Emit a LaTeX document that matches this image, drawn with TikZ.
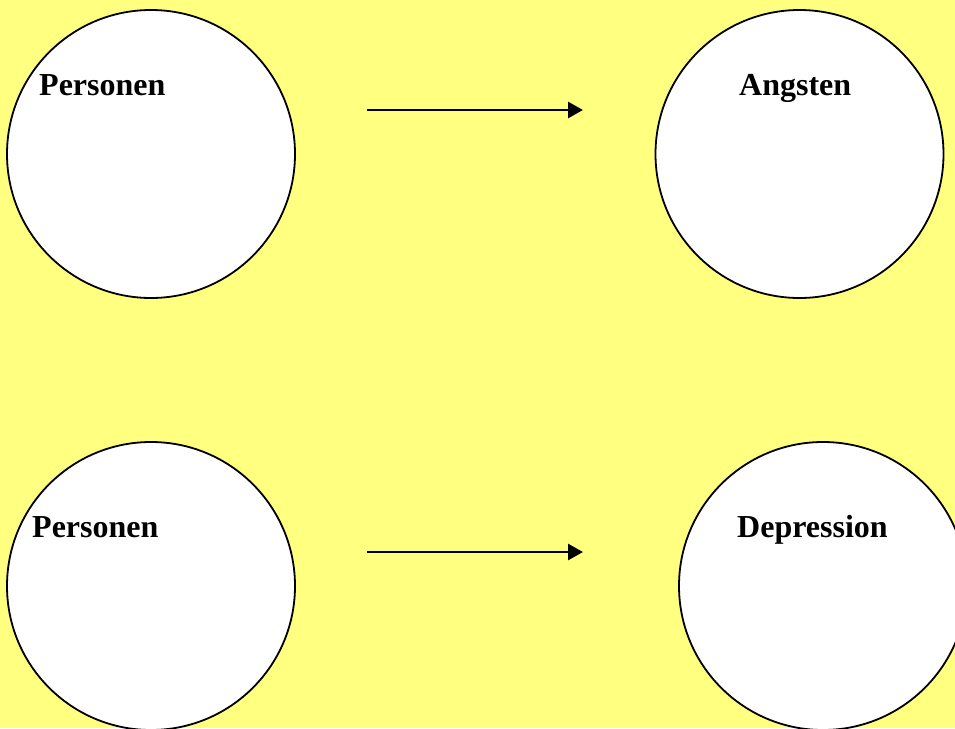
\documentclass[tikz,border=0pt]{standalone}
\usepackage{fontspec}
\setmainfont{Liberation Serif}
\usepackage{xcolor}
\usetikzlibrary{arrows.meta}
\definecolor{paper}{RGB}{255,255,128}

\begin{document}
\begin{tikzpicture}[
    x=1pt,y=-1pt,
    ring/.style={circle,draw,fill=white,line width=1.8pt,minimum size=288pt,inner sep=0pt},
    tag/.style={anchor=base west,inner sep=0pt,font=\fontsize{32}{38}\selectfont\bfseries},
    link/.style={line width=2.8pt,-{Triangle[length=15pt,width=16pt]}}
  ]
    \fill[paper] (0,0) rectangle (955,728);
    \useasboundingbox (0,0) rectangle (955,728);
    \clip (0,0) rectangle (955,728);

    % upper row
    \node[ring] (pers1) at (151,154) {};
    \node[ring] (angst) at (799.5,154) {};
    \node[tag] (pers1lbl) at (39,95) {Personen};
    \node[tag] (angstlbl) at (739,95) {Angsten};
    \coordinate (a1s) at (367,110);
    \coordinate (a1e) at (583,110);
    \draw[link] (a1s) -- (a1e);

    % lower row
    \node[ring] (pers2) at (151,586) {};
    \node[ring] (depr) at (823,586) {};
    \node[tag] (pers2lbl) at (32,537) {Personen};
    \node[tag] (deprlbl) at (737,537) {Depression};
    \coordinate (a2s) at (367,552);
    \coordinate (a2e) at (583,552);
    \draw[link] (a2s) -- (a2e);
  \end{tikzpicture}
\end{document}
